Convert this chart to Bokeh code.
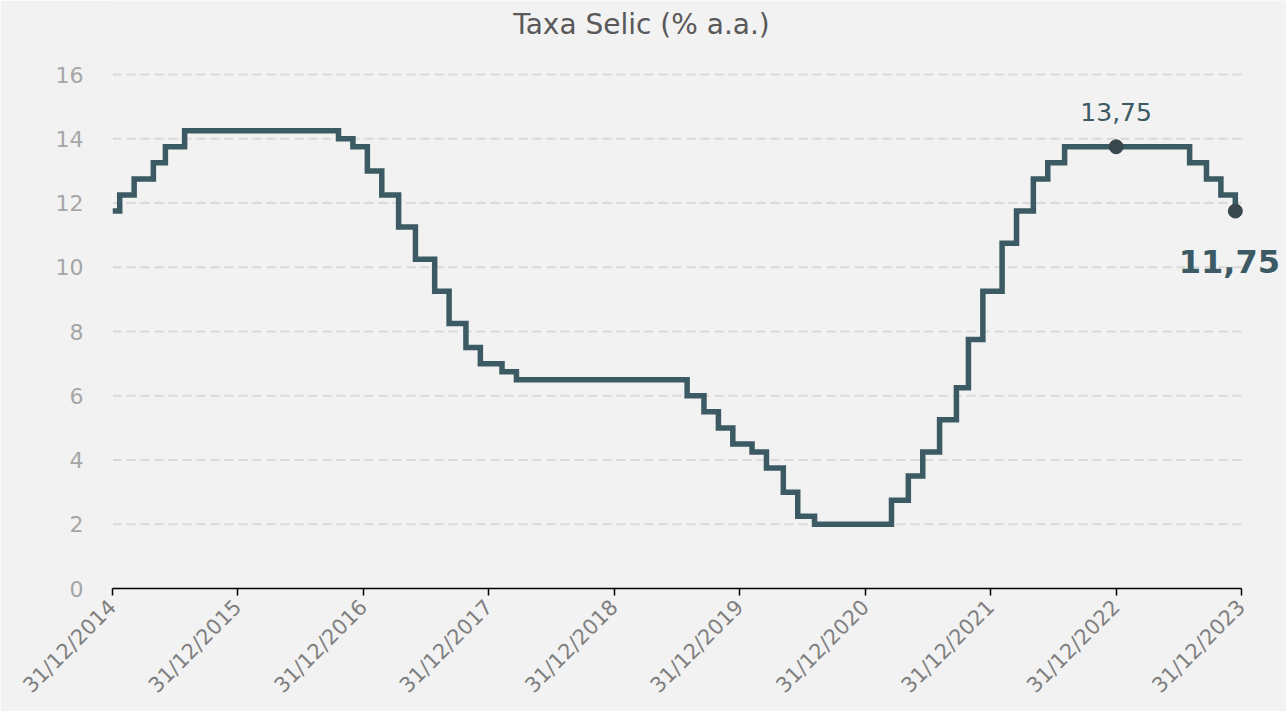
import numpy as np
from bokeh.plotting import figure
from bokeh.models import FixedTicker, DatetimeTickFormatter, Range1d, Label, ColumnDataSource
from bokeh.embed import file_html
from bokeh.resources import INLINE

# ---- data -------------------------------------------------------------
change_dates = ["2014-12-31", "2015-01-21", "2015-03-04", "2015-04-29", "2015-06-03",
                "2015-07-29", "2016-10-19", "2016-11-30", "2017-01-11", "2017-02-22",
                "2017-04-12", "2017-05-31", "2017-07-26", "2017-09-06", "2017-10-25",
                "2017-12-06", "2018-02-07", "2018-03-21", "2019-07-31", "2019-09-18",
                "2019-10-30", "2019-12-11", "2020-02-05", "2020-03-18", "2020-05-06",
                "2020-06-17", "2020-08-05", "2021-03-17", "2021-05-05", "2021-06-16",
                "2021-08-04", "2021-09-22", "2021-10-27", "2021-12-08", "2022-02-02",
                "2022-03-16", "2022-05-04", "2022-06-15", "2022-08-03", "2023-08-02",
                "2023-09-20", "2023-11-01", "2023-12-13"]
selic = [11.75, 12.25, 12.75, 13.25, 13.75,
         14.25, 14.00, 13.75, 13.00, 12.25,
         11.25, 10.25, 9.25, 8.25, 7.50,
         7.00, 6.75, 6.50, 6.00, 5.50,
         5.00, 4.50, 4.25, 3.75, 3.00,
         2.25, 2.00, 2.75, 3.50, 4.25,
         5.25, 6.25, 7.75, 9.25, 10.75,
         11.75, 12.75, 13.25, 13.75, 13.25,
         12.75, 12.25, 11.75]

tick_dates = ["2014-12-31", "2015-12-31", "2016-12-31", "2017-12-31", "2018-12-31",
              "2019-12-31", "2020-12-31", "2021-12-31", "2022-12-31", "2023-12-31"]
y_ticks = [0, 2, 4, 6, 8, 10, 12, 14, 16]

highlight_dates = ["2022-12-31", "2023-12-13"]
highlight_values = [13.75, 11.75]
highlight_labels = ["13,75", "11,75"]

title_text = "Taxa Selic (% a.a.)"

# ---- helpers ----------------------------------------------------------
def to_ms(ds):
    return [np.datetime64(d, "ms").astype("int64").item() for d in ds]

x = to_ms(change_dates)
xt = to_ms(tick_dates)
xh = to_ms(highlight_dates)

FONT = "DejaVu Sans"
BG = "#f2f2f2"
LINE = "#3b5a63"

# layout (pixels): axis from x=112 to x=1241, y=16 at 74, y=0 at 588
W, H = 1286, 711
LEFT, RIGHT_AXIS, TOP16, BOTTOM = 112, 1241, 74, 588
ms_per_px = (xt[-1] - xt[0]) / (RIGHT_AXIS - LEFT)
units_per_px = (y_ticks[-1] - y_ticks[0]) / (BOTTOM - TOP16)
x_end = xt[-1] + (W - RIGHT_AXIS) * ms_per_px
y_top = y_ticks[-1] + TOP16 * units_per_px

p = figure(width=W, height=H, x_axis_type="datetime",
           output_backend="svg", toolbar_location=None,
           x_range=Range1d(xt[0], x_end), y_range=Range1d(y_ticks[0], y_top),
           min_border_left=LEFT, min_border_right=0,
           min_border_top=0, min_border_bottom=H - BOTTOM)

p.background_fill_color = BG
p.border_fill_color = BG
p.outline_line_color = None

# title (drawn inside the frame area above the plot)
p.add_layout(Label(x=xt[0] + (641 - LEFT) * ms_per_px,
                   y=y_ticks[-1] + (TOP16 - 24) * units_per_px,
                   text=title_text, text_align="center", text_baseline="middle",
                   text_font=FONT, text_font_size="28px", text_color="#595959"))

# dashed horizontal gridlines, limited to the axis span
gy = y_ticks[1:]
p.segment(x0=[xt[0]] * len(gy), x1=[xt[-1]] * len(gy), y0=gy, y1=gy,
          line_color="#d9d9d9", line_width=2, line_dash="9 5")

# step line
src = ColumnDataSource(dict(x=x, y=selic))
p.step("x", "y", source=src, mode="after", line_color=LINE, line_width=5.5,
       line_join="miter")

# highlighted points
hsrc = ColumnDataSource(dict(x=xh, y=highlight_values, t=highlight_labels))
p.scatter("x", "y", source=hsrc, size=14, fill_color="#39484d", line_color="#39484d")

p.add_layout(Label(x=xh[0], y=highlight_values[0], text=highlight_labels[0],
                   text_align="center", text_baseline="alphabetic", y_offset=35,
                   text_font=FONT, text_font_size="25px", text_color=LINE))
p.add_layout(Label(x=xh[1], y=highlight_values[1], text=highlight_labels[1],
                   text_align="center", text_baseline="alphabetic", y_offset=-50,
                   x_offset=-6,
                   text_font=FONT, text_font_size="32px", text_font_style="bold",
                   text_color=LINE))

# axes
p.xaxis.ticker = FixedTicker(ticks=xt)
p.xaxis.bounds = (xt[0], xt[-1])
fmt = "%d/%m/%Y"
p.xaxis.formatter = DatetimeTickFormatter(milliseconds=fmt, seconds=fmt, minsec=fmt,
                                          minutes=fmt, hourmin=fmt, hours=fmt, days=fmt,
                                          months=fmt, years=fmt)
p.xaxis.major_label_orientation = np.pi / 4
p.xaxis.major_label_text_font = FONT
p.xaxis.major_label_text_font_size = "21px"
p.xaxis.major_label_text_color = "#7f7f7f"
p.xaxis.axis_line_color = "black"
p.xaxis.axis_line_width = 1.5
p.xaxis.major_tick_line_color = "black"
p.xaxis.major_tick_line_width = 1.5
p.xaxis.major_tick_in = 0
p.xaxis.major_tick_out = 7
p.xaxis.minor_tick_line_color = None
p.xaxis.major_label_standoff = 8

p.yaxis.ticker = FixedTicker(ticks=y_ticks)
p.yaxis.axis_line_color = None
p.yaxis.major_tick_line_color = None
p.yaxis.minor_tick_line_color = None
p.yaxis.major_label_text_font = FONT
p.yaxis.major_label_text_font_size = "22px"
p.yaxis.major_label_text_color = "#a6a6a6"
p.yaxis.major_label_standoff = 23

p.xgrid.grid_line_color = None
p.ygrid.grid_line_color = None

open("out.html", "w").write(file_html(p, INLINE))
